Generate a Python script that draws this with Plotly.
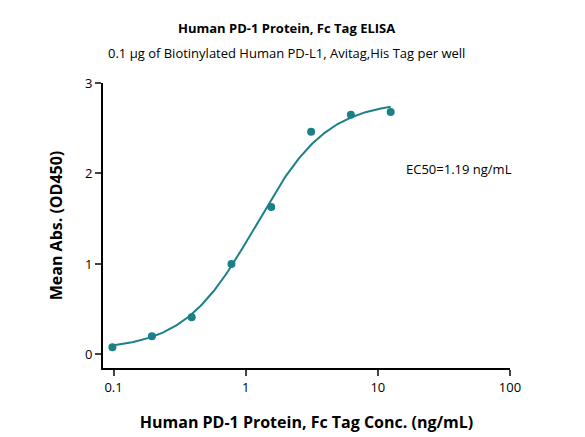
import numpy as np
import plotly.graph_objects as go

# measured points
conc = [0.098, 0.195, 0.39, 0.78, 1.56, 3.125, 6.25, 12.5]
od450 = [0.08, 0.20, 0.41, 1.00, 1.63, 2.46, 2.65, 2.68]

# 4PL fit parameters
bottom, top, ec50, hill = 0.05, 2.80, 1.19, 1.6

teal = "#1b8087"

xs = np.logspace(np.log10(0.098), np.log10(12.5), 200)
ys = bottom + (top - bottom) / (1 + (ec50 / xs) ** hill)

fig = go.Figure()
fig.add_trace(go.Scatter(x=xs, y=ys, mode="lines", line=dict(color=teal, width=2), showlegend=False))
fig.add_trace(go.Scatter(x=conc, y=od450, mode="markers", marker=dict(color=teal, size=8), showlegend=False))

fig.update_layout(
    width=585, height=437,
    margin=dict(l=95, r=83, t=75, b=77),
    plot_bgcolor="white", paper_bgcolor="white",
    font=dict(family="Open Sans", color="black", size=13),
    annotations=[
        dict(text="<b>Human PD-1 Protein, Fc Tag ELISA</b>", x=0.45, y=1.193, xref="paper", yref="paper",
             yanchor="middle", showarrow=False, font=dict(size=13)),
        dict(text="0.1 µg of Biotinylated Human PD-L1, Avitag,His Tag per well", x=0.45, y=1.105,
             xref="paper", yref="paper", yanchor="middle", showarrow=False, font=dict(size=13)),
        dict(text="EC50=1.19 ng/mL", x=1.2, y=2.05, xref="x", yref="y", xanchor="left",
             showarrow=False, font=dict(size=13)),
    ],
)
fig.update_xaxes(type="log", range=[-1.08, 2], tickvals=[0.1, 1, 10, 100], ticktext=["0.1", "1", "10", "100"],
                 showline=True, linecolor="black", linewidth=2, ticks="outside", tickwidth=2, ticklen=6,
                 showgrid=False, zeroline=False,
                 title=dict(text="<b>Human PD-1 Protein, Fc Tag Conc. (ng/mL)</b>", standoff=22))
fig.update_yaxes(range=[-0.15, 3], tickvals=[0, 1, 2, 3], showline=True, linecolor="black", linewidth=2,
                 ticks="outside", tickwidth=2, ticklen=6, showgrid=False, zeroline=False,
                 title=dict(text="<b>Mean Abs. (OD450)</b>", standoff=18))

fig.write_html("out.html")
